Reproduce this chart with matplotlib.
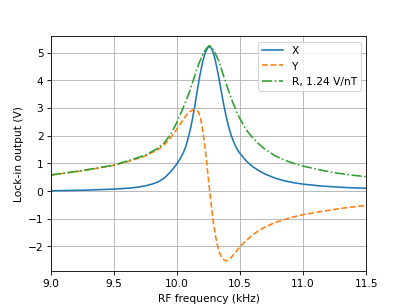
import numpy as np
import matplotlib
matplotlib.use("Agg")
from matplotlib import pyplot as plt

# values (kHz, V)
freq_x = [9.00, 9.25, 9.50, 9.63, 9.70, 9.75, 9.80, 9.85, 9.90, 9.95,
          9.975, 10.00, 10.025, 10.05, 10.07, 10.09, 10.105, 10.12, 10.14, 10.16,
          10.18, 10.20, 10.215, 10.23, 10.245, 10.256, 10.27, 10.285, 10.30, 10.315,
          10.33, 10.345, 10.36, 10.375, 10.39, 10.41, 10.43, 10.45, 10.475, 10.50,
          10.55, 10.60, 10.65, 10.70, 10.775, 10.85, 10.925, 11.00, 11.125, 11.25,
          11.375, 11.50]
x_out = [0.01, 0.03, 0.07, 0.11, 0.15, 0.19, 0.25, 0.33, 0.47, 0.70,
         0.84, 0.99, 1.17, 1.38, 1.62, 1.95, 2.22, 2.55, 3.05, 3.62,
         4.15, 4.60, 4.88, 5.06, 5.18, 5.22, 5.17, 5.02, 4.78, 4.47,
         4.12, 3.74, 3.36, 3.00, 2.68, 2.30, 2.00, 1.76, 1.52, 1.35,
         1.08, 0.88, 0.73, 0.61, 0.47, 0.37, 0.30, 0.25, 0.19, 0.15,
         0.12, 0.10]

freq_y = [9.00, 9.25, 9.50, 9.63, 9.75, 9.85, 9.90, 9.95, 9.99, 10.03,
          10.07, 10.10, 10.125, 10.15, 10.17, 10.185, 10.20, 10.215, 10.23, 10.245,
          10.26, 10.275, 10.29, 10.305, 10.32, 10.335, 10.35, 10.37, 10.395, 10.42,
          10.45, 10.50, 10.55, 10.60, 10.65, 10.70, 10.775, 10.85, 10.925, 11.00,
          11.125, 11.25, 11.375, 11.50]
y_out = [0.58, 0.73, 0.93, 1.09, 1.27, 1.50, 1.68, 1.93, 2.18, 2.45,
         2.72, 2.86, 2.93, 2.94, 2.85, 2.65, 2.30, 1.80, 1.25, 0.58,
         -0.05, -0.65, -1.20, -1.62, -1.95, -2.20, -2.37, -2.48, -2.52, -2.45,
         -2.28, -2.00, -1.78, -1.58, -1.42, -1.29, -1.14, -1.03, -0.93, -0.85,
         -0.75, -0.66, -0.58, -0.52]

freq_r = [9.00, 9.25, 9.50, 9.63, 9.75, 9.85, 9.90, 9.95, 9.99, 10.03,
          10.07, 10.10, 10.125, 10.15, 10.175, 10.20, 10.225, 10.245, 10.256, 10.27,
          10.29, 10.31, 10.33, 10.35, 10.37, 10.39, 10.41, 10.44, 10.47, 10.50,
          10.55, 10.60, 10.65, 10.70, 10.775, 10.85, 10.925, 11.00, 11.125, 11.25,
          11.375, 11.50]
r_out = [0.58, 0.74, 0.94, 1.12, 1.30, 1.55, 1.75, 2.05, 2.40, 2.80,
         3.25, 3.60, 3.95, 4.30, 4.62, 4.90, 5.10, 5.21, 5.25, 5.22,
         5.08, 4.90, 4.70, 4.43, 4.14, 3.86, 3.60, 3.22, 2.88, 2.60,
         2.20, 1.92, 1.69, 1.50, 1.28, 1.12, 1.00, 0.90, 0.77, 0.66,
         0.58, 0.52]
sensitivity = 1.24  # V/nT

dpi = 407 / 5.33
fig, ax = plt.subplots(figsize=(5.33, 4.0), dpi=dpi)
ax.plot(freq_x, x_out, '-', label='X')
ax.plot(freq_y, y_out, '--', label='Y')
ax.plot(freq_r, r_out, '-.', label='R, {:.2f} V/nT'.format(sensitivity))
ax.set_xlim(9.0, 11.5)
ax.set_ylim(-2.9, 5.59)
ax.set_xticks(np.arange(9.0, 11.51, 0.5))
ax.set_yticks(np.arange(-2, 6, 1))
ax.set_xlabel('RF frequency (kHz)')
ax.set_ylabel('Lock-in output (V)')
ax.grid(True)
ax.legend(loc='upper right')
fig.savefig('out.png', dpi=dpi)
